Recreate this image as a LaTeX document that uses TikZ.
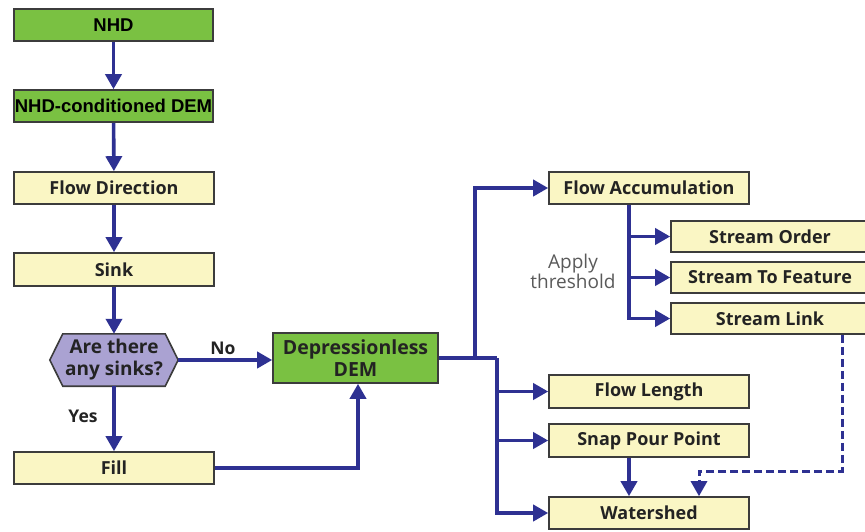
\documentclass[tikz,border=0pt]{standalone}
\usepackage{fontspec}
\setmainfont{Open Sans}
\newfontfamily\arialb{Liberation Sans}
\usetikzlibrary{arrows.meta,backgrounds}
\definecolor{gfill}{RGB}{122,193,66}
\definecolor{yfill}{RGB}{250,246,196}
\definecolor{pfill}{RGB}{170,162,210}
\definecolor{ablue}{RGB}{46,49,146}
\definecolor{bord}{RGB}{60,60,60}
\definecolor{txt}{RGB}{35,35,35}
\definecolor{gtxt}{RGB}{90,90,90}
\tikzset{
  box/.style={draw=bord, line width=1.6pt, fill=yfill, minimum width=200pt, minimum height=32pt, inner sep=0pt, text=txt, font=\fontsize{18}{20}\selectfont\bfseries},
  gbox/.style={box, fill=gfill, text=black, font=\arialb\fontsize{18.5}{20}\selectfont\bfseries},
  arr/.style={draw=ablue, line width=3.6pt, -{Triangle[length=15pt,width=16pt]}},
  ln/.style={draw=ablue, line width=3.6pt},
  lbl/.style={text=txt, font=\fontsize{17.5}{20}\selectfont\bfseries, inner sep=0pt},
}
\begin{document}
\begin{tikzpicture}[x=1pt,y=-1pt]
\useasboundingbox (0,0) rectangle (865,531);
% left column
\node[gbox, minimum width=199pt] (nhd) at (113.5,25) {NHD};
\node[gbox, minimum width=199pt] (ndem) at (113.5,106) {NHD-conditioned DEM};
\node[box] (fdir) at (114,188) {Flow Direction};
\node[box, minimum height=33pt] (sink) at (114,269.5) {Sink};
\node[minimum width=128pt, minimum height=52pt, inner sep=0pt, align=center, text=txt, font=\fontsize{19}{22}\selectfont\bfseries] (hex) at (114,360) {Are there\\any sinks?};
\begin{scope}[on background layer]
\fill[white] (0,0) rectangle (865,531);
\draw[draw=bord, line width=1.6pt, fill=pfill] (hex.west) -- ([xshift=13pt]hex.north west) -- ([xshift=-13pt]hex.north east) -- (hex.east) -- ([xshift=-13pt]hex.south east) -- ([xshift=13pt]hex.south west) -- cycle;
\end{scope}
\node[box] (fill) at (114,468) {Fill};
\node[box, fill=gfill, minimum width=165pt, minimum height=50pt, align=center, font=\fontsize{19.5}{22}\selectfont\bfseries] (ddem) at (355.5,358) {Depressionless\\DEM};
% right column
\node[box] (facc) at (649,188) {Flow Accumulation};
\node[box, minimum width=198pt, minimum height=31pt] (sorder) at (770,236.5) {Stream Order};
\node[box, minimum width=198pt, minimum height=31pt] (stf) at (770,277.5) {Stream To Feature};
\node[box, minimum width=198pt, minimum height=31pt] (slink) at (770,318.5) {Stream Link};
\node[box, minimum height=33pt] (flen) at (649,391.5) {Flow Length};
\node[box, minimum height=33pt] (snap) at (649,440.5) {Snap Pour Point};
\node[box] (wshed) at (649,513) {Watershed};
% labels
\node[lbl] (no) at (223,348) {No};
\node[lbl] (yes) at (83,416) {Yes};
\node[align=center, text=gtxt, font=\fontsize{19}{20}\selectfont, inner sep=0pt] (thr) at (573,271) {Apply\\threshold};
% connectors left
\draw[arr] (nhd) -- (ndem);
\draw[arr] (ndem) -- (fdir);
\draw[arr] (fdir) -- (sink);
\draw[arr] (sink) -- (hex.north);
\draw[arr] (hex.east) -- (hex.east -| ddem.west);
\draw[arr] (hex.south) -- (fill.north);
\draw[arr] (fill.east) -| ([xshift=2.5pt]ddem.south);
% DEM branches
\coordinate (j1) at (475,358);
\coordinate (j2) at (497,358);
\draw[ln] (ddem.east |- j1) -- (j2);
\draw[arr] (j1) |- (facc.west);
\draw[arr] (j2) |- (wshed.west);
\draw[arr] (j2 |- flen.west) -- (flen.west);
\draw[arr] (j2 |- snap.west) -- (snap.west);
% flow accumulation branches
\coordinate (k) at ([xshift=-20pt]facc.south);
\draw[arr] (k) |- (slink.west);
\draw[arr] (k |- sorder.west) -- (sorder.west);
\draw[arr] (k |- stf.west) -- (stf.west);
% snap to watershed
\draw[arr] ([xshift=-20pt]snap.south) -- ([xshift=-20pt]wshed.north);
% dashed
\coordinate (dd) at (842,471);
\draw[arr, line width=3pt, dash pattern=on 8pt off 4pt] (slink.south -| dd) -- (dd) -| ([xshift=50pt]wshed.north);
\end{tikzpicture}
\end{document}
